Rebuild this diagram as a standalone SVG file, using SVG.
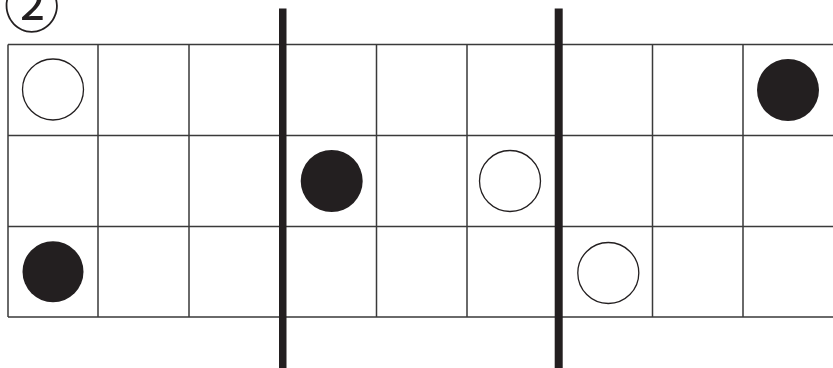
<svg xmlns="http://www.w3.org/2000/svg" width="833" height="368" viewBox="0 0 833 368">
<style>
.g{stroke:#3a3a3a;stroke-width:1.5;fill:none}
.bar{fill:#231f20}
.w{fill:#fff;stroke:#231f20;stroke-width:1.3}
.b{fill:#231f20;stroke:none}
.t{font-family:"Noto Sans CJK JP","DejaVu Sans",sans-serif;font-size:56px;fill:#231f20}
</style>
<rect width="833" height="368" fill="#fff"/>
<text class="t" x="31.7" y="27" text-anchor="middle">②</text>
<g id="grid">
<path class="g" d="M8,44.5H833M8,135.5H833M8,226.5H833M8,317H833M8,44.5V317M98,44.5V317M189,44.5V317M376.5,44.5V317M467,44.5V317M652.5,44.5V317M743,44.5V317"/>
</g>
<g id="dividers">
<rect class="bar" x="279" y="8.5" width="7.5" height="360"/>
<rect class="bar" x="554.7" y="8.5" width="8" height="360"/>
</g>
<g id="stone1"><circle class="w" cx="53" cy="89.5" r="30.5"/></g>
<g id="stone2"><circle class="b" cx="788" cy="90" r="31"/></g>
<g id="stone3"><circle class="b" cx="331.7" cy="181" r="31"/></g>
<g id="stone4"><circle class="w" cx="510" cy="181" r="30.5"/></g>
<g id="stone5"><circle class="b" cx="53" cy="271.7" r="30.5"/></g>
<g id="stone6"><circle class="w" cx="608.3" cy="273" r="30.5"/></g>
</svg>
